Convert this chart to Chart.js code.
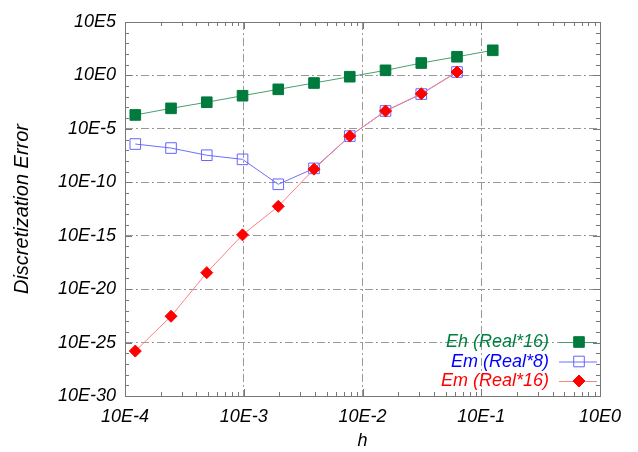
<!DOCTYPE html>
<html>
<head>
<meta charset="utf-8">
<script src="https://cdn.jsdelivr.net/npm/chart.js@4.4.1/dist/chart.umd.min.js"></script>
<style>
  body { margin: 0; background: #fff; }
</style>
</head>
<body>
<canvas id="myChart" width="638" height="452"></canvas>
<script>
// step size h (2^-13 ... 2^-3)
var h = [1.2207e-4, 2.4414e-4, 4.8828e-4, 9.7656e-4, 1.9531e-3, 3.9063e-3, 7.8125e-3, 1.5625e-2, 3.125e-2, 6.25e-2, 0.125];
var ehReal16 = [2.0e-4, 8.3e-4, 3.1e-3, 1.26e-2, 5.0e-2, 0.195, 0.76, 3.0, 14.5, 56, 224];
var emReal8 = [3.8e-7, 1.6e-7, 3.4e-8, 1.4e-8, 6.5e-11, 2.0e-9, 2.1e-6, 4.7e-4, 1.8e-2, 2.1];
var emReal16 = [1.6e-26, 2.9e-23, 3.5e-19, 1.2e-15, 5.6e-13, 1.7e-9, 2.1e-6, 4.7e-4, 1.95e-2, 2.1];
var seriesNames = ["Eh (Real*16)", "Em (Real*8)", "Em (Real*16)"];
var xDecades = [-4, -3, -2, -1, 0];
var yDecades = [5, 0, -5, -10, -15, -20, -25, -30];

var fontName = "'Liberation Sans', Arial, sans-serif";

function punkte(ys) {
    var p = [];
    ys.forEach((y, i) => p.push({ x: h[i], y: y }));
    return p;
}

// frame + inner minor ticks on all four sides
var rahmen = {
    id: 'rahmen',
    afterDraw(chart) {
        var ctx = chart.ctx;
        var a = chart.chartArea;
        var xs = chart.scales.x, ys = chart.scales.y;
        ctx.save();
        ctx.strokeStyle = '#777';
        ctx.lineWidth = 1;
        ctx.beginPath();
        for (var d = -4; d < 0; d++) {
            for (var m = 1; m <= 9; m++) {
                var px = Math.round(xs.getPixelForValue(m * Math.pow(10, d))) + 0.5;
                var len = m == 1 ? 7 : 4;
                ctx.moveTo(px, a.bottom); ctx.lineTo(px, a.bottom - len);
                ctx.moveTo(px, a.top); ctx.lineTo(px, a.top + len);
            }
        }
        for (var e = -30; e <= 5; e++) {
            var py = Math.round(ys.getPixelForValue(Math.pow(10, e))) + 0.5;
            var l2 = e % 5 == 0 ? 7 : 4;
            ctx.moveTo(a.left, py); ctx.lineTo(a.left + l2, py);
            ctx.moveTo(a.right, py); ctx.lineTo(a.right - l2, py);
        }
        ctx.stroke();
        ctx.strokeRect(Math.round(a.left) + 0.5, Math.round(a.top) + 0.5, Math.round(a.right - a.left), Math.round(a.bottom - a.top));
        ctx.restore();
    }
};

// legend inside the plot, bottom right
var legende = {
    id: 'legende',
    afterDraw(chart) {
        var ctx = chart.ctx;
        var a = chart.chartArea;
        ctx.save();
        ctx.font = "italic 18px " + fontName;
        ctx.textAlign = 'right';
        ctx.textBaseline = 'middle';
        chart.data.datasets.forEach((ds, i) => {
            var y = a.bottom - 54 + i * 19.5;
            ctx.fillStyle = ds.textColor;
            ctx.fillText(ds.label, a.right - 51, y);
            ctx.strokeStyle = ds.borderColor;
            ctx.lineWidth = 1;
            ctx.beginPath();
            ctx.moveTo(a.right - 41, y + 0.5);
            ctx.lineTo(a.right - 3, y + 0.5);
            ctx.stroke();
            ctx.fillStyle = ds.pointBackgroundColor;
            ctx.strokeStyle = ds.pointBorderColor;
            ctx.lineWidth = ds.pointBorderWidth;
            Chart.helpers.drawPoint(ctx, {
                pointStyle: ds.pointStyle,
                radius: ds.pointRadius,
                rotation: 0,
                borderWidth: ds.pointBorderWidth
            }, a.right - 21, y);
        });
        ctx.restore();
    }
};

var canvas = document.getElementById('myChart');
var myChart = new Chart(canvas, {
    type: 'line',
    data: {
        datasets: [{
            label: seriesNames[0],
            data: punkte(ehReal16),
            borderColor: 'rgb(70, 160, 110)',
            borderWidth: 1,
            pointStyle: 'rect',
            pointRadius: 7.5,
            pointBackgroundColor: 'rgb(0, 122, 61)',
            pointBorderColor: 'rgb(0, 122, 61)',
            pointBorderWidth: 1,
            textColor: 'rgb(0, 128, 64)',
            order: 2
        }, {
            label: seriesNames[1],
            data: punkte(emReal8),
            borderColor: 'rgb(110, 110, 255)',
            borderWidth: 1,
            pointStyle: 'rect',
            pointRadius: 7.5,
            pointBackgroundColor: 'rgba(0,0,0,0)',
            pointBorderColor: 'rgb(100, 100, 255)',
            pointBorderWidth: 1,
            textColor: 'rgb(0, 0, 255)',
            order: 1
        }, {
            label: seriesNames[2],
            data: punkte(emReal16),
            borderColor: 'rgb(255, 130, 130)',
            borderWidth: 1,
            pointStyle: 'rectRot',
            pointRadius: 6,
            pointBackgroundColor: 'rgb(255, 0, 0)',
            pointBorderColor: 'rgb(255, 0, 0)',
            pointBorderWidth: 1,
            textColor: 'rgb(255, 0, 0)',
            order: 0
        }]
    },
    options: {
        responsive: false,
        animation: false,
        layout: { padding: { top: 22, right: 38, left: 0, bottom: 0 } },
        plugins: {
            legend: { display: false },
            tooltip: { enabled: false }
        },
        scales: {
            x: {
                type: 'logarithmic',
                min: 1e-4,
                max: 1,
                afterBuildTicks: s => { s.ticks = xDecades.map(d => ({ value: Math.pow(10, d) })); },
                afterFit: s => { s.height = 56; },
                ticks: {
                    autoSkip: false,
                    maxRotation: 0,
                    padding: 10,
                    color: '#000',
                    font: { family: fontName, size: 18, style: 'italic' },
                    callback: v => "10E" + Math.round(Math.log10(v))
                },
                grid: { color: '#999', drawTicks: false, lineWidth: 1 },
                border: { display: false, dash: [8, 3, 2, 3] },
                title: {
                    display: true,
                    text: 'h',
                    color: '#000',
                    padding: { top: 6, bottom: 0 },
                    font: { family: fontName, size: 18, style: 'italic' }
                }
            },
            y: {
                type: 'logarithmic',
                min: 1e-30,
                max: 1e5,
                afterBuildTicks: s => { s.ticks = yDecades.map(d => ({ value: Math.pow(10, d) })); },
                afterFit: s => { s.width = 125; },
                ticks: {
                    autoSkip: false,
                    padding: 9,
                    color: '#000',
                    font: { family: fontName, size: 18, style: 'italic' },
                    callback: v => "10E" + Math.round(Math.log10(v))
                },
                grid: { color: '#999', drawTicks: false, lineWidth: 1 },
                border: { display: false, dash: [8, 3, 2, 3] },
                title: {
                    display: true,
                    text: 'Discretization Error',
                    color: '#000',
                    padding: { top: 10, bottom: 0 },
                    font: { family: fontName, size: 20, style: 'italic' }
                }
            }
        }
    },
    plugins: [rahmen, legende]
});
</script>
</body>
</html>
